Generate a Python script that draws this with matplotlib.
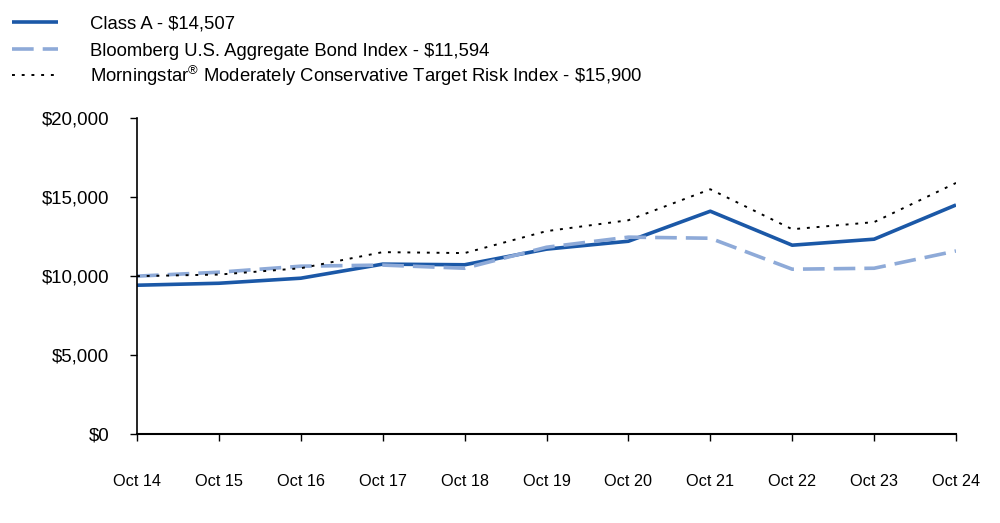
import matplotlib.pyplot as plt
from matplotlib.lines import Line2D

years = ['Oct 14', 'Oct 15', 'Oct 16', 'Oct 17', 'Oct 18', 'Oct 19',
         'Oct 20', 'Oct 21', 'Oct 22', 'Oct 23', 'Oct 24']
class_a = [9425, 9550, 9870, 10760, 10720, 11710, 12210, 14110, 11960, 12340, 14507]
bloomberg = [10000, 10250, 10630, 10700, 10500, 11830, 12470, 12400, 10440, 10500, 11594]
morningstar = [10000, 10100, 10500, 11520, 11460, 12850, 13540, 15500, 12970, 13420, 15900]

y_ticks = [0, 5000, 10000, 15000, 20000]
y_labels = ['$0', '$5,000', '$10,000', '$15,000', '$20,000']

legend_labels = ['Class A - \\$14,507',
                 'Bloomberg U.S. Aggregate Bond Index - \\$11,594',
                 'Morningstar$^{\\circledR}$ Moderately Conservative Target Risk Index - \\$15,900']

plt.rcParams['font.family'] = ['Liberation Sans', 'DejaVu Sans']
plt.rcParams['mathtext.fontset'] = 'custom'
plt.rcParams['mathtext.rm'] = 'Liberation Sans'

W, H = 1000, 523
fig = plt.figure(figsize=(W / 100, H / 100), dpi=100)
ax = fig.add_axes([0.137, 0.170, 0.819, 0.604])

styles = [dict(color='#1b58a7', lw=2.6, solid_capstyle='butt'),
          dict(color='#8eaad8', lw=2.6, dashes=(6, 2.5)),
          dict(color='black', lw=1.4, dashes=(1.5, 3.5))]

x = range(len(years))
for series, st in zip([class_a, bloomberg, morningstar], styles):
    ax.plot(x, series, **st)

ax.set_xlim(0, len(years) - 1)
ax.set_ylim(0, 20000)
ax.set_xticks(list(x))
ax.set_xticklabels(years)
ax.set_yticks(y_ticks)
ax.set_yticklabels(y_labels)
ax.tick_params(axis='x', length=5, width=1, pad=24, labelsize=11.7)
ax.tick_params(axis='y', length=5, width=1, pad=15, labelsize=13.4)
for s in ['top', 'right']:
    ax.spines[s].set_visible(False)
ax.spines['left'].set_linewidth(1.2)
ax.spines['bottom'].set_linewidth(1.5)

# legend drawn by hand so the rows stay evenly spaced despite the superscript
row_px = [22, 49, 75]
for yp, lab, st in zip(row_px, legend_labels, styles):
    yf = 1 - yp / H
    fig.add_artist(Line2D([12 / W, 58 / W], [yf, yf], transform=fig.transFigure, **st))
    fig.text(90 / W, 1 - (yp + 6.6) / H, lab, fontsize=13.3, va='baseline', ha='left')

fig.savefig('out.png', dpi=100)
